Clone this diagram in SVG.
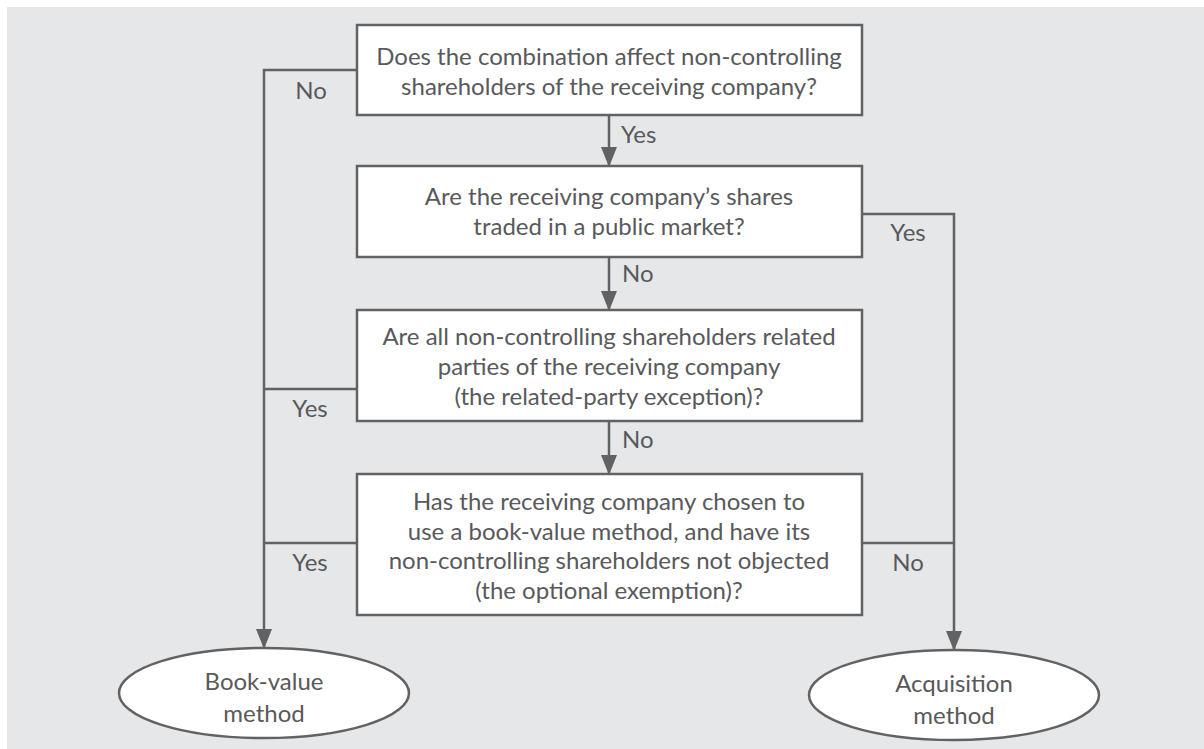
<svg xmlns="http://www.w3.org/2000/svg" width="1204" height="749" viewBox="0 0 1204 749">
<defs>
<style>
.box{fill:#ffffff;stroke:#616264;stroke-width:2.5}
.ln{fill:none;stroke:#616264;stroke-width:2.5}
text{font-family:Lato,"Open Sans","Liberation Sans",sans-serif;font-size:24px;fill:#58595b}
.c{text-anchor:middle}
</style>
<marker id="arr" markerWidth="20" markerHeight="16" refX="19" refY="8" orient="auto" markerUnits="userSpaceOnUse" viewBox="0 0 20 16">
<path d="M0,0 L20,8 L0,16 Z" fill="#616264"/>
</marker>
</defs>
<rect x="0" y="0" width="1204" height="749" fill="#ffffff"/>
<rect x="7" y="7" width="1197" height="742" fill="#e6e7e8"/>
<g id="connectors">
<path class="ln" d="M609,115 V166" marker-end="url(#arr)"/>
<path class="ln" d="M609,257 V310" marker-end="url(#arr)"/>
<path class="ln" d="M609,421 V474" marker-end="url(#arr)"/>
<path class="ln" d="M357,70 H264 V648" marker-end="url(#arr)"/>
<path class="ln" d="M357,389 H264"/>
<path class="ln" d="M357,543 H264"/>
<path class="ln" d="M862,214 H954 V650" marker-end="url(#arr)"/>
<path class="ln" d="M862,543 H954"/>
</g>
<g id="labels">
<text x="311" y="99" class="c">No</text>
<text x="621" y="143">Yes</text>
<text x="908" y="241" class="c">Yes</text>
<text x="622" y="282">No</text>
<text x="310" y="417" class="c">Yes</text>
<text x="622" y="448">No</text>
<text x="310" y="571" class="c">Yes</text>
<text x="908" y="571" class="c">No</text>
</g>
<g id="q1">
<rect class="box" x="357" y="25" width="505" height="90"/>
<text class="c" x="609" y="65">Does the combination affect non-controlling</text>
<text class="c" x="609" y="95">shareholders of the receiving company?</text>
</g>
<g id="q2">
<rect class="box" x="357" y="166" width="505" height="91"/>
<text class="c" x="609" y="205">Are the receiving company’s shares</text>
<text class="c" x="609" y="235">traded in a public market?</text>
</g>
<g id="q3">
<rect class="box" x="357" y="310" width="505" height="111"/>
<text class="c" x="609" y="345">Are all non-controlling shareholders related</text>
<text class="c" x="609" y="375">parties of the receiving company</text>
<text class="c" x="609" y="405">(the related-party exception)?</text>
</g>
<g id="q4">
<rect class="box" x="357" y="474" width="505" height="141"/>
<text class="c" x="609" y="510">Has the receiving company chosen to</text>
<text class="c" x="609" y="540">use a book-value method, and have its</text>
<text class="c" x="609" y="569">non-controlling shareholders not objected</text>
<text class="c" x="609" y="599">(the optional exemption)?</text>
</g>
<g id="book">
<ellipse class="box" cx="264" cy="693" rx="145" ry="45"/>
<text class="c" x="264" y="690">Book-value</text>
<text class="c" x="264" y="722">method</text>
</g>
<g id="acq">
<ellipse class="box" cx="954" cy="695" rx="145" ry="45"/>
<text class="c" x="954" y="692">Acquisition</text>
<text class="c" x="954" y="724">method</text>
</g>
</svg>
